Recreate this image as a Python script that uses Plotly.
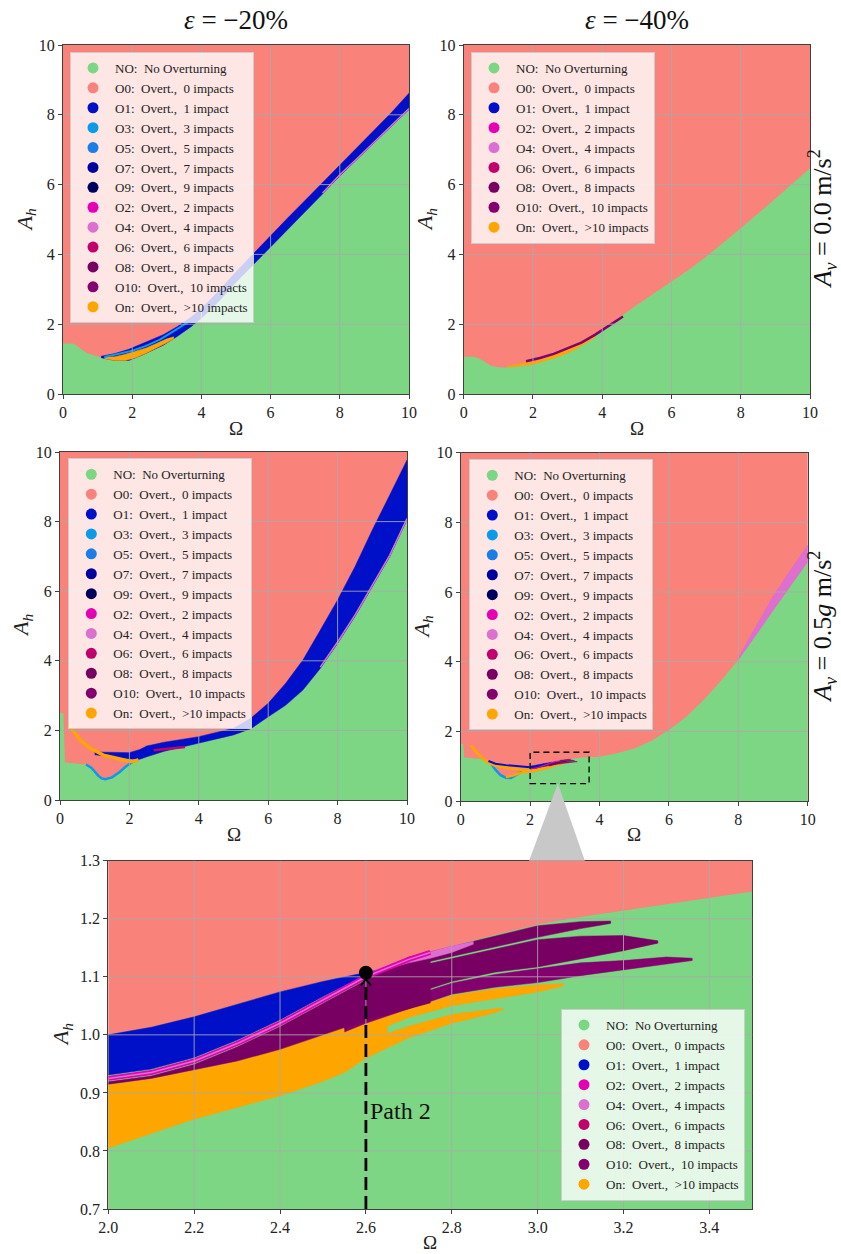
import plotly.graph_objects as go

SERIF = "Liberation Serif, DejaVu Serif, serif"
NB = "\u00a0"

# ---------------- categories / colours / labels ----------------
CATS = ["NO", "O0", "O1", "O3", "O5", "O7", "O9", "O2", "O4", "O6", "O8", "O10", "On"]
LABELS = {
    "NO": "NO: No Overturning", "O0": "O0: Overt., 0 impacts", "O1": "O1: Overt., 1 impact",
    "O3": "O3: Overt., 3 impacts", "O5": "O5: Overt., 5 impacts", "O7": "O7: Overt., 7 impacts",
    "O9": "O9: Overt., 9 impacts", "O2": "O2: Overt., 2 impacts", "O4": "O4: Overt., 4 impacts",
    "O6": "O6: Overt., 6 impacts", "O8": "O8: Overt., 8 impacts", "O10": "O10: Overt., 10 impacts",
    "On": "On: Overt., >10 impacts"}
COL = {
    "NO": "#7dd684", "O0": "#f9827a", "O1": "#0010c8", "O3": "#0a9ae8", "O5": "#1a7ee6",
    "O7": "#0000a0", "O9": "#00005e", "O2": "#e600b4", "O4": "#dc6fcf", "O6": "#c0006c",
    "O8": "#780062", "O10": "#84006e", "On": "#ffa500"}
LEGEND_FULL = ["NO", "O0", "O1", "O3", "O5", "O7", "O9", "O2", "O4", "O6", "O8", "O10", "On"]
LEGEND_SHORT = ["NO", "O0", "O1", "O2", "O4", "O6", "O8", "O10", "On"]

COL_TITLES = ["<i>ε</i> = −20%", "<i>ε</i> = −40%"]
ROW_TITLES = ["<i>A<sub>v</sub></i> = 0.0 m/s<sup>2</sup>", "<i>A<sub>v</sub></i> = 0.5<i>g</i> m/s<sup>2</sup>"]
X_TITLE = "Ω"
Y_TITLE = "<i>A<sub>h</sub></i>"

TICKS_FULL = [0, 2, 4, 6, 8, 10]
GRID_FULL = [2, 4, 6, 8]
TICKS_ZX = [2.0, 2.2, 2.4, 2.6, 2.8, 3.0, 3.2, 3.4]
TICKS_ZY = [0.7, 0.8, 0.9, 1.0, 1.1, 1.2, 1.3]

# ---------------- panel 1 : eps=-20%, Av=0 ----------------
P1_NO_X = [0, 0.3, 0.4, 0.5, 0.7, 0.9, 1.1, 1.3, 1.6, 1.9, 2.2, 2.5, 2.9, 3.3, 3.7, 4.0, 4.5, 5.0, 5.5, 6.0, 6.5, 7.0, 7.5, 8.0, 8.5, 9.0, 9.5, 10.0]
P1_NO_Y = [1.45, 1.45, 1.38, 1.3, 1.17, 1.1, 1.04, 0.98, 0.95, 0.97, 1.08, 1.21, 1.4, 1.65, 1.93, 2.17, 2.65, 3.2, 3.72, 4.23, 4.73, 5.23, 5.73, 6.25, 6.72, 7.2, 7.68, 8.15]
P1_O1_X = [1.1, 1.5, 1.9, 2.3, 2.9, 3.3, 3.7, 4.0, 4.5, 5.0, 5.5, 6.0, 6.5, 7.0, 7.5, 8.0, 8.5, 9.0, 9.5, 10.0]
P1_O1_LO = [1.04, 0.96, 0.96, 1.12, 1.4, 1.65, 1.93, 2.17, 2.65, 3.2, 3.72, 4.23, 4.73, 5.23, 5.73, 6.25, 6.72, 7.2, 7.68, 8.15]
P1_O1_HI = [1.08, 1.16, 1.28, 1.45, 1.7, 1.93, 2.2, 2.45, 2.95, 3.5, 4.02, 4.56, 5.05, 5.55, 6.05, 6.58, 7.05, 7.55, 8.07, 8.62]
P1_ON_X = [1.2, 1.5, 1.8, 2.1, 2.4, 2.7, 3.0, 3.2]
P1_ON_LO = [1.02, 0.96, 0.96, 1.04, 1.17, 1.31, 1.47, 1.58]
P1_ON_HI = [1.06, 1.07, 1.14, 1.22, 1.32, 1.45, 1.58, 1.64]
P1_O3_X = [1.2, 1.6, 2.0, 2.4, 2.8, 3.2, 3.6]
P1_O3_Y = [1.06, 1.14, 1.24, 1.38, 1.56, 1.8, 2.05]
P1_O4_X = [7.5, 8.0, 8.5, 9.0, 9.5, 10.0]
P1_O4_Y = [5.76, 6.28, 6.75, 7.23, 7.71, 8.18]

# ---------------- panel 2 : eps=-40%, Av=0 ----------------
P2_NO_X = [0, 0.3, 0.45, 0.6, 0.8, 1.0, 1.2, 1.5, 2.0, 2.5, 3.0, 3.5, 4.0, 4.5, 5.0, 5.5, 6.0, 6.5, 7.0, 7.5, 8.0, 8.5, 9.0, 9.5, 10.0]
P2_NO_Y = [1.07, 1.07, 1.02, 0.92, 0.8, 0.77, 0.76, 0.79, 0.85, 1.0, 1.17, 1.45, 1.83, 2.2, 2.55, 2.88, 3.22, 3.56, 3.93, 4.33, 4.75, 5.17, 5.6, 6.03, 6.47]
P2_ON_X = [1.25, 1.6, 2.0, 2.4, 2.8, 3.2, 3.6, 3.8]
P2_ON_LO = [0.77, 0.8, 0.85, 0.96, 1.09, 1.27, 1.5, 1.62]
P2_ON_HI = [0.8, 0.86, 0.93, 1.04, 1.19, 1.38, 1.62, 1.72]
P2_O10_X = [1.8, 2.2, 2.6, 3.0, 3.4, 3.8, 4.2, 4.6]
P2_O10_Y = [0.94, 1.03, 1.15, 1.3, 1.47, 1.7, 1.95, 2.22]

# ---------------- panel 3 : eps=-20%, Av=0.5g ----------------
P3_NO_X = [0, 0.1, 0.14, 0.3, 0.5, 0.75, 0.9, 1.0, 1.1, 1.2, 1.3, 1.5, 1.7, 1.9, 2.1, 2.3, 2.5, 3.0, 3.5, 4.0, 4.5, 5.0, 5.5, 6.0, 6.5, 7.0, 7.5, 8.0, 8.5, 9.0, 9.5, 10.0]
P3_NO_Y = [2.5, 2.5, 1.08, 1.06, 1.05, 1.02, 0.92, 0.8, 0.68, 0.6, 0.58, 0.63, 0.78, 0.95, 1.1, 1.17, 1.24, 1.4, 1.52, 1.63, 1.75, 1.87, 2.05, 2.39, 2.72, 3.16, 3.78, 4.5, 5.27, 6.13, 6.99, 8.05]
P3_O1_X = [1.0, 1.3, 1.6, 2.0, 2.3, 2.5, 3.0, 3.5, 4.0, 4.5, 5.0, 5.5, 6.0, 6.5, 7.0, 7.5, 8.0, 8.5, 9.0, 9.5, 10.0]
P3_O1_LO = [1.3, 1.26, 1.22, 1.18, 1.17, 1.24, 1.4, 1.52, 1.63, 1.75, 1.87, 2.05, 2.39, 2.72, 3.16, 3.78, 4.5, 5.27, 6.13, 6.99, 8.05]
P3_O1_HI = [1.38, 1.37, 1.36, 1.36, 1.45, 1.55, 1.66, 1.74, 1.82, 1.94, 2.06, 2.35, 2.78, 3.35, 4.02, 4.88, 5.75, 6.7, 7.76, 8.76, 9.77]
P3_ON_X = [0.24, 0.43, 0.58, 0.86, 1.25, 1.63, 2.07, 2.26]
P3_ON_Y = [2.16, 1.92, 1.72, 1.49, 1.29, 1.2, 1.1, 1.15]
P3_O3_X = [0.75, 0.9, 1.0, 1.1, 1.2, 1.3, 1.5, 1.7, 1.9, 2.1, 2.25]
P3_O3_Y = [1.02, 0.93, 0.82, 0.7, 0.62, 0.6, 0.65, 0.79, 0.96, 1.1, 1.16]
P3_O6_X = [2.7, 3.0, 3.3, 3.6]
P3_O6_Y = [1.43, 1.46, 1.49, 1.52]
P3_O4_X = [7.5, 8.0, 8.5, 9.0, 9.5, 10.0]
P3_O4_Y = [3.82, 4.54, 5.31, 6.17, 7.03, 8.09]

# ---------------- zoom (panel 5) : eps=-40%, Av=0.5g, Omega 2.0-3.5 ----------------
Z_PINK_X = [2.0, 2.1, 2.2, 2.3, 2.4, 2.5, 2.6, 2.7, 2.8, 2.9, 3.0, 3.1, 3.2, 3.3, 3.4, 3.5]
Z_PINK_Y = [1.0, 1.013, 1.031, 1.052, 1.074, 1.092, 1.107, 1.132, 1.153, 1.172, 1.19, 1.203, 1.214, 1.225, 1.236, 1.247]
Z_O1_X = [2.0, 2.1, 2.2, 2.3, 2.4, 2.5, 2.6, 2.63]
Z_O1_LO = [0.931, 0.941, 0.961, 0.991, 1.026, 1.066, 1.103, 1.11]
Z_O1_HI = [1.0, 1.013, 1.031, 1.052, 1.074, 1.092, 1.107, 1.112]
Z_O2_X = [2.0, 2.1, 2.2, 2.3, 2.4, 2.5, 2.6, 2.7, 2.75]
Z_O2_Y = [0.925, 0.935, 0.955, 0.985, 1.02, 1.06, 1.1, 1.13, 1.142]
Z_O4_X = [2.62, 2.7, 2.75, 2.8, 2.85]
Z_O4_LO = [1.108, 1.124, 1.132, 1.142, 1.156]
Z_O4_HI = [1.112, 1.132, 1.143, 1.153, 1.161]
Z_O8_X = [2.0, 2.1, 2.2, 2.3, 2.4, 2.5, 2.6, 2.7, 2.75]
Z_O8_LO = [0.915, 0.925, 0.94, 0.955, 0.975, 1.0, 1.025, 1.045, 1.055]
Z_O8_HI = [0.919, 0.929, 0.949, 0.979, 1.014, 1.054, 1.094, 1.124, 1.136]
Z_F1_X = [2.6, 2.7, 2.8, 2.9, 3.0, 3.1, 3.17]
Z_F1_LO = [1.09, 1.118, 1.135, 1.152, 1.168, 1.183, 1.192]
Z_F1_HI = [1.1, 1.134, 1.152, 1.17, 1.188, 1.195, 1.196]
Z_F2_X = [2.55, 2.6, 2.7, 2.8, 2.9, 3.0, 3.1, 3.2, 3.28]
Z_F2_LO = [1.01, 1.03, 1.068, 1.092, 1.108, 1.117, 1.131, 1.145, 1.158]
Z_F2_HI = [1.04, 1.085, 1.115, 1.131, 1.148, 1.164, 1.17, 1.171, 1.162]
Z_F3_X = [2.55, 2.6, 2.7, 2.8, 2.9, 3.0, 3.1, 3.2, 3.3, 3.36]
Z_F3_LO = [1.005, 1.02, 1.045, 1.07, 1.082, 1.09, 1.102, 1.112, 1.122, 1.128]
Z_F3_HI = [1.02, 1.04, 1.065, 1.089, 1.104, 1.114, 1.124, 1.128, 1.134, 1.132]
Z_ON_X = [2.0, 2.1, 2.2, 2.3, 2.4, 2.5, 2.55, 2.6, 2.65]
Z_ON_LO = [0.805, 0.83, 0.855, 0.875, 0.895, 0.92, 0.935, 0.96, 0.98]
Z_ON_HI = [0.915, 0.925, 0.94, 0.955, 0.975, 1.0, 1.012, 1.025, 1.035]
Z_ONF1_X = [2.6, 2.7, 2.8, 2.9, 3.0, 3.06]
Z_ONF1_LO = [1.0, 1.03, 1.05, 1.062, 1.074, 1.084]
Z_ONF1_HI = [1.022, 1.045, 1.068, 1.079, 1.086, 1.088]
Z_ONF2_X = [2.5, 2.6, 2.7, 2.8, 2.9, 2.92]
Z_ONF2_LO = [0.93, 0.96, 0.995, 1.02, 1.038, 1.044]
Z_ONF2_HI = [0.97, 0.99, 1.015, 1.035, 1.045, 1.046]
PATH_OMEGA = 2.6
PATH_TOP = 1.107
PATH_LABEL = "Path 2"

# ---------------- panel 4 : eps=-40%, Av=0.5g ----------------
P4_LOW_X = [0, 0.07, 0.1, 0.4, 0.7, 0.85, 1.0, 1.15, 1.3, 1.45, 1.6, 1.75, 1.9]
P4_LOW_Y = [1.64, 1.64, 1.25, 1.23, 1.2, 1.12, 0.92, 0.74, 0.66, 0.65, 0.73, 0.83, 0.88]
P4_HIGH_X = [4.0, 4.5, 5.0, 5.5, 6.0, 6.5, 7.0, 7.5, 8.0, 8.5, 9.0, 9.5, 10.0]
P4_HIGH_Y = [1.27, 1.37, 1.51, 1.73, 2.04, 2.42, 2.9, 3.45, 4.05, 4.75, 5.48, 6.18, 6.87]
P4_O4_X = [8.0, 8.5, 9.0, 9.5, 10.0]
P4_O4_LO = [4.05, 4.75, 5.48, 6.18, 6.87]
P4_O4_HI = [4.12, 5.0, 5.87, 6.62, 7.35]
P4_ON_X = [0.3, 0.45, 0.6, 0.8, 1.0, 1.2, 1.5, 1.8, 2.0]
P4_ON_Y = [1.6, 1.4, 1.25, 1.1, 1.02, 0.98, 0.93, 0.9, 0.87]
P4_ONB_X = [1.3, 1.5, 1.7, 1.9, 2.0]
P4_ONB_Y = [0.69, 0.73, 0.8, 0.85, 0.86]
P4_O3_X = [0.85, 1.0, 1.15, 1.3, 1.45, 1.6, 1.75]
P4_O3_Y = [1.1, 0.9, 0.74, 0.67, 0.66, 0.75, 0.84]
P4_O1_X = [0.8, 1.0, 1.3, 1.6, 1.9, 2.0]
P4_O1_Y = [1.15, 1.07, 1.03, 1.0, 0.98, 0.97]

ZOOM_BOX_X = [2.0, 3.7]
ZOOM_BOX_Y = [0.5, 1.4]
ZOOM_RANGE_X = [2.0, 3.5]
ZOOM_RANGE_Y = [0.7, 1.3]
CONNECT_APEX = (2.8, 0.5)      # in panel-4 data units
CONNECT_BASE_X = [2.98, 3.11]  # in zoom-panel data units

W, H = 841, 1254
DOM = {
    1: ([63 / W, 409 / W], [1 - 394 / H, 1 - 45 / H]),
    2: ([463.7 / W, 810 / W], [1 - 394 / H, 1 - 45 / H]),
    3: ([60 / W, 407 / W], [1 - 800 / H, 1 - 452 / H]),
    4: ([460.7 / W, 807.7 / W], [1 - 801 / H, 1 - 452.7 / H]),
    5: ([108.3 / W, 752.3 / W], [1 - 1209 / H, 1 - 860.7 / H]),
}

fig = go.Figure()


def axn(i):
    return ("x" if i == 1 else f"x{i}"), ("y" if i == 1 else f"y{i}")


def under(i, xs, ys, c):
    xa, ya = axn(i)
    fig.add_trace(go.Scatter(x=xs, y=ys, mode="lines", line=dict(width=0, color=COL[c]),
                             fill="tozeroy", fillcolor=COL[c], xaxis=xa, yaxis=ya,
                             showlegend=False, hoverinfo="skip"))


def band(i, xs, lo, hi, c):
    xa, ya = axn(i)
    fig.add_trace(go.Scatter(x=list(xs) + list(xs)[::-1], y=list(hi) + list(lo)[::-1],
                             mode="lines", line=dict(width=0.5, color=COL[c]), fill="toself",
                             fillcolor=COL[c], xaxis=xa, yaxis=ya, showlegend=False,
                             hoverinfo="skip"))


def curve(i, xs, ys, c, w):
    xa, ya = axn(i)
    fig.add_trace(go.Scatter(x=xs, y=ys, mode="lines", line=dict(width=w, color=COL[c]),
                             xaxis=xa, yaxis=ya, showlegend=False, hoverinfo="skip"))


def spaced(label):
    # LaTeX-like wider spacing after ':' and ','
    return label.replace(": ", ":" + NB * 2).replace(", ", "," + NB * 2)


def legend_entries(i, cats, lname):
    xa, ya = axn(i)
    for c in cats:
        fig.add_trace(go.Scatter(x=[None], y=[None], mode="markers",
                                 marker=dict(size=11, color=COL[c]), name=spaced(LABELS[c]),
                                 legend=lname, xaxis=xa, yaxis=ya, showlegend=True))


# panel 1
under(1, P1_NO_X, P1_NO_Y, "NO")
band(1, P1_O1_X, P1_O1_LO, P1_O1_HI, "O1")
band(1, P1_ON_X, P1_ON_LO, P1_ON_HI, "On")
curve(1, P1_O3_X, P1_O3_Y, "O3", 2)
curve(1, P1_O4_X, P1_O4_Y, "O4", 1.5)
legend_entries(1, LEGEND_FULL, "legend")

# panel 2
under(2, P2_NO_X, P2_NO_Y, "NO")
band(2, P2_ON_X, P2_ON_LO, P2_ON_HI, "On")
curve(2, P2_O10_X, P2_O10_Y, "O10", 2.5)
legend_entries(2, LEGEND_SHORT, "legend2")

# panel 3
under(3, P3_NO_X, P3_NO_Y, "NO")
band(3, P3_O1_X, P3_O1_LO, P3_O1_HI, "O1")
curve(3, P3_O4_X, P3_O4_Y, "O4", 1.5)
curve(3, P3_O6_X, P3_O6_Y, "O6", 2.5)
curve(3, P3_O3_X, P3_O3_Y, "O3", 2.5)
curve(3, P3_ON_X, P3_ON_Y, "On", 3.5)
legend_entries(3, LEGEND_FULL, "legend3")


def zoom_layers(i):
    band(i, Z_ON_X, Z_ON_LO, Z_ON_HI, "On")
    band(i, Z_ONF2_X, Z_ONF2_LO, Z_ONF2_HI, "On")
    band(i, Z_ONF1_X, Z_ONF1_LO, Z_ONF1_HI, "On")
    band(i, Z_F3_X, Z_F3_LO, Z_F3_HI, "O10")
    band(i, Z_F2_X, Z_F2_LO, Z_F2_HI, "O8")
    band(i, Z_F1_X, Z_F1_LO, Z_F1_HI, "O8")
    band(i, Z_O8_X, Z_O8_LO, Z_O8_HI, "O8")
    band(i, Z_O1_X, Z_O1_LO, Z_O1_HI, "O1")
    band(i, Z_O4_X, Z_O4_LO, Z_O4_HI, "O4")


# panel 4
under(4, P4_LOW_X + Z_PINK_X + P4_HIGH_X, P4_LOW_Y + Z_PINK_Y + P4_HIGH_Y, "NO")
band(4, P4_O4_X, P4_O4_LO, P4_O4_HI, "O4")
zoom_layers(4)
curve(4, Z_O2_X, Z_O2_Y, "O2", 1)
curve(4, P4_O3_X, P4_O3_Y, "O3", 2.5)
curve(4, P4_ONB_X, P4_ONB_Y, "On", 2.5)
curve(4, P4_ON_X, P4_ON_Y, "On", 3)
curve(4, P4_O1_X, P4_O1_Y, "O1", 2)
legend_entries(4, LEGEND_FULL, "legend4")

# panel 5 (zoom)
under(5, Z_PINK_X, Z_PINK_Y, "NO")
zoom_layers(5)
curve(5, Z_O2_X, Z_O2_Y, "O2", 5)
curve(5, Z_O2_X, Z_O2_Y, "O4", 1.5)
legend_entries(5, LEGEND_SHORT, "legend5")

# ---------------- axes ----------------
AX_COMMON = dict(showline=True, linecolor="#404040", linewidth=1.2, mirror=True,
                 ticks="outside", ticklen=4, tickcolor="#404040", showgrid=False,
                 zeroline=False, automargin=False,
                 tickfont=dict(family=SERIF, size=16, color="#222"))
layout = {}
for i in range(1, 6):
    xk = "xaxis" if i == 1 else f"xaxis{i}"
    yk = "yaxis" if i == 1 else f"yaxis{i}"
    xa, ya = axn(i)
    dx, dy = DOM[i]
    if i < 5:
        xr, yr, xt, yt, fmt = [0, 10], [0, 10], TICKS_FULL, TICKS_FULL, ""
    else:
        xr, yr, xt, yt, fmt = ZOOM_RANGE_X, ZOOM_RANGE_Y, TICKS_ZX, TICKS_ZY, ".1f"
    layout[xk] = dict(AX_COMMON, domain=dx, anchor=ya, range=xr, tickvals=xt, tickformat=fmt)
    layout[yk] = dict(AX_COMMON, domain=dy, anchor=xa, range=yr, tickvals=yt, tickformat=fmt)

# grid lines (drawn above the coloured regions like the original)
shapes = []
for i in range(1, 6):
    xa, ya = axn(i)
    gx = GRID_FULL if i < 5 else TICKS_ZX[1:]
    gy = GRID_FULL if i < 5 else TICKS_ZY[1:-1]
    for v in gx:
        shapes.append(dict(type="line", xref=xa, yref=f"{ya} domain", x0=v, x1=v, y0=0, y1=1,
                           line=dict(color="rgba(170,170,170,0.85)", width=1), layer="above"))
    for v in gy:
        shapes.append(dict(type="line", xref=f"{xa} domain", yref=ya, x0=0, x1=1, y0=v, y1=v,
                           line=dict(color="rgba(170,170,170,0.85)", width=1), layer="above"))

# dashed zoom box on panel 4
shapes.append(dict(type="rect", xref="x4", yref="y4", x0=ZOOM_BOX_X[0], x1=ZOOM_BOX_X[1],
                   y0=ZOOM_BOX_Y[0], y1=ZOOM_BOX_Y[1], line=dict(color="black", width=1.3, dash="6px,4px"),
                   layer="above"))

# "Path 2" dashed arrow with end point (drawn above the grid)
shapes.append(dict(type="line", xref="x5", yref="y5", x0=PATH_OMEGA, x1=PATH_OMEGA,
                   y0=ZOOM_RANGE_Y[0], y1=PATH_TOP - 0.012,
                   line=dict(color="black", width=2.8, dash="13px,6px"), layer="above"))
shapes.append(dict(type="path", xref="x5", yref="y5",
                   path=(f"M {PATH_OMEGA - 0.012},{PATH_TOP - 0.022} L {PATH_OMEGA},{PATH_TOP - 0.011} "
                         f"L {PATH_OMEGA + 0.012},{PATH_TOP - 0.022}"),
                   line=dict(color="black", width=2), layer="above"))
shapes.append(dict(type="circle", xref="x5", yref="y5", xsizemode="pixel", ysizemode="pixel",
                   xanchor=PATH_OMEGA, yanchor=PATH_TOP, x0=-7, x1=7, y0=-7, y1=7,
                   fillcolor="black", line=dict(color="black", width=0), layer="above"))


def to_paper(i, xv, yv, xr, yr):
    dx, dy = DOM[i]
    px = dx[0] + (xv - xr[0]) / (xr[1] - xr[0]) * (dx[1] - dx[0])
    py = dy[0] + (yv - yr[0]) / (yr[1] - yr[0]) * (dy[1] - dy[0])
    return px, py


ax_, ay_ = to_paper(4, CONNECT_APEX[0], CONNECT_APEX[1], [0, 10], [0, 10])
bl_x, b_y = to_paper(5, CONNECT_BASE_X[0], ZOOM_RANGE_Y[1], ZOOM_RANGE_X, ZOOM_RANGE_Y)
br_x, _ = to_paper(5, CONNECT_BASE_X[1], ZOOM_RANGE_Y[1], ZOOM_RANGE_X, ZOOM_RANGE_Y)
shapes.append(dict(type="path", xref="paper", yref="paper",
                   path=f"M {ax_},{ay_} L {bl_x},{b_y} L {br_x},{b_y} Z",
                   fillcolor="#c8c8c8", line=dict(width=0), layer="above"))

annotations = []
for k, t in enumerate(COL_TITLES):
    dx, dy = DOM[k + 1]
    annotations.append(dict(text=t, xref="paper", yref="paper", x=(dx[0] + dx[1]) / 2, y=1 - 20 / H,
                            showarrow=False, font=dict(family=SERIF, size=27, color="#111"),
                            xanchor="center", yanchor="middle"))
for k, t in enumerate(ROW_TITLES):
    dx, dy = DOM[2 * k + 2]
    annotations.append(dict(text=t, xref="paper", yref="paper", x=822 / W, y=(dy[0] + dy[1]) / 2,
                            showarrow=False, textangle=-90, font=dict(family=SERIF, size=26, color="#111"),
                            xanchor="center", yanchor="middle"))

# axis titles as annotations (pixel offsets from each subplot)
XT_OFF = {1: 34, 2: 34, 3: 34, 4: 34, 5: 33}
YT_OFF = {1: 38, 2: 38, 3: 38, 4: 38, 5: 46}
for i in range(1, 6):
    dx, dy = DOM[i]
    annotations.append(dict(text=X_TITLE, xref="paper", yref="paper", x=(dx[0] + dx[1]) / 2,
                            y=dy[0] - XT_OFF[i] / H, showarrow=False, xanchor="center", yanchor="middle",
                            font=dict(family=SERIF, size=19, color="#222")))
    annotations.append(dict(text=Y_TITLE, xref="paper", yref="paper", x=dx[0] - YT_OFF[i] / W,
                            y=(dy[0] + dy[1]) / 2, showarrow=False, textangle=-90,
                            xanchor="center", yanchor="middle",
                            font=dict(family=SERIF, size=22, color="#222")))

annotations.append(dict(text=PATH_LABEL, xref="x5", yref="y5", x=PATH_OMEGA + 0.006, y=0.868,
                        showarrow=False, xanchor="left", yanchor="middle",
                        font=dict(family=SERIF, size=24, color="#111")))

LEG = dict(bgcolor="rgba(255,255,255,0.8)", bordercolor="#cccccc", borderwidth=1,
           font=dict(family=SERIF, size=13, color="#222"), xref="paper", yref="paper",
           itemclick=False, itemdoubleclick=False, itemwidth=34)
layout["legend"] = dict(LEG, x=70 / W, y=1 - 52 / H, xanchor="left", yanchor="top")
layout["legend2"] = dict(LEG, x=471 / W, y=1 - 52 / H, xanchor="left", yanchor="top")
layout["legend3"] = dict(LEG, x=68.3 / W, y=1 - 458.3 / H, xanchor="left", yanchor="top")
layout["legend4"] = dict(LEG, x=469.3 / W, y=1 - 459.3 / H, xanchor="left", yanchor="top")
layout["legend5"] = dict(LEG, x=745 / W, y=1 - 1201 / H, xanchor="right", yanchor="bottom")

fig.update_layout(width=W, height=H, margin=dict(l=0, r=0, t=0, b=0, autoexpand=False), autosize=False,
                  paper_bgcolor="white", plot_bgcolor=COL["O0"], shapes=shapes,
                  annotations=annotations, hovermode=False, **layout)

fig.write_html("out.html", config={"displayModeBar": False},
               post_script="document.body.style.margin='0';document.body.style.overflow='hidden';")
